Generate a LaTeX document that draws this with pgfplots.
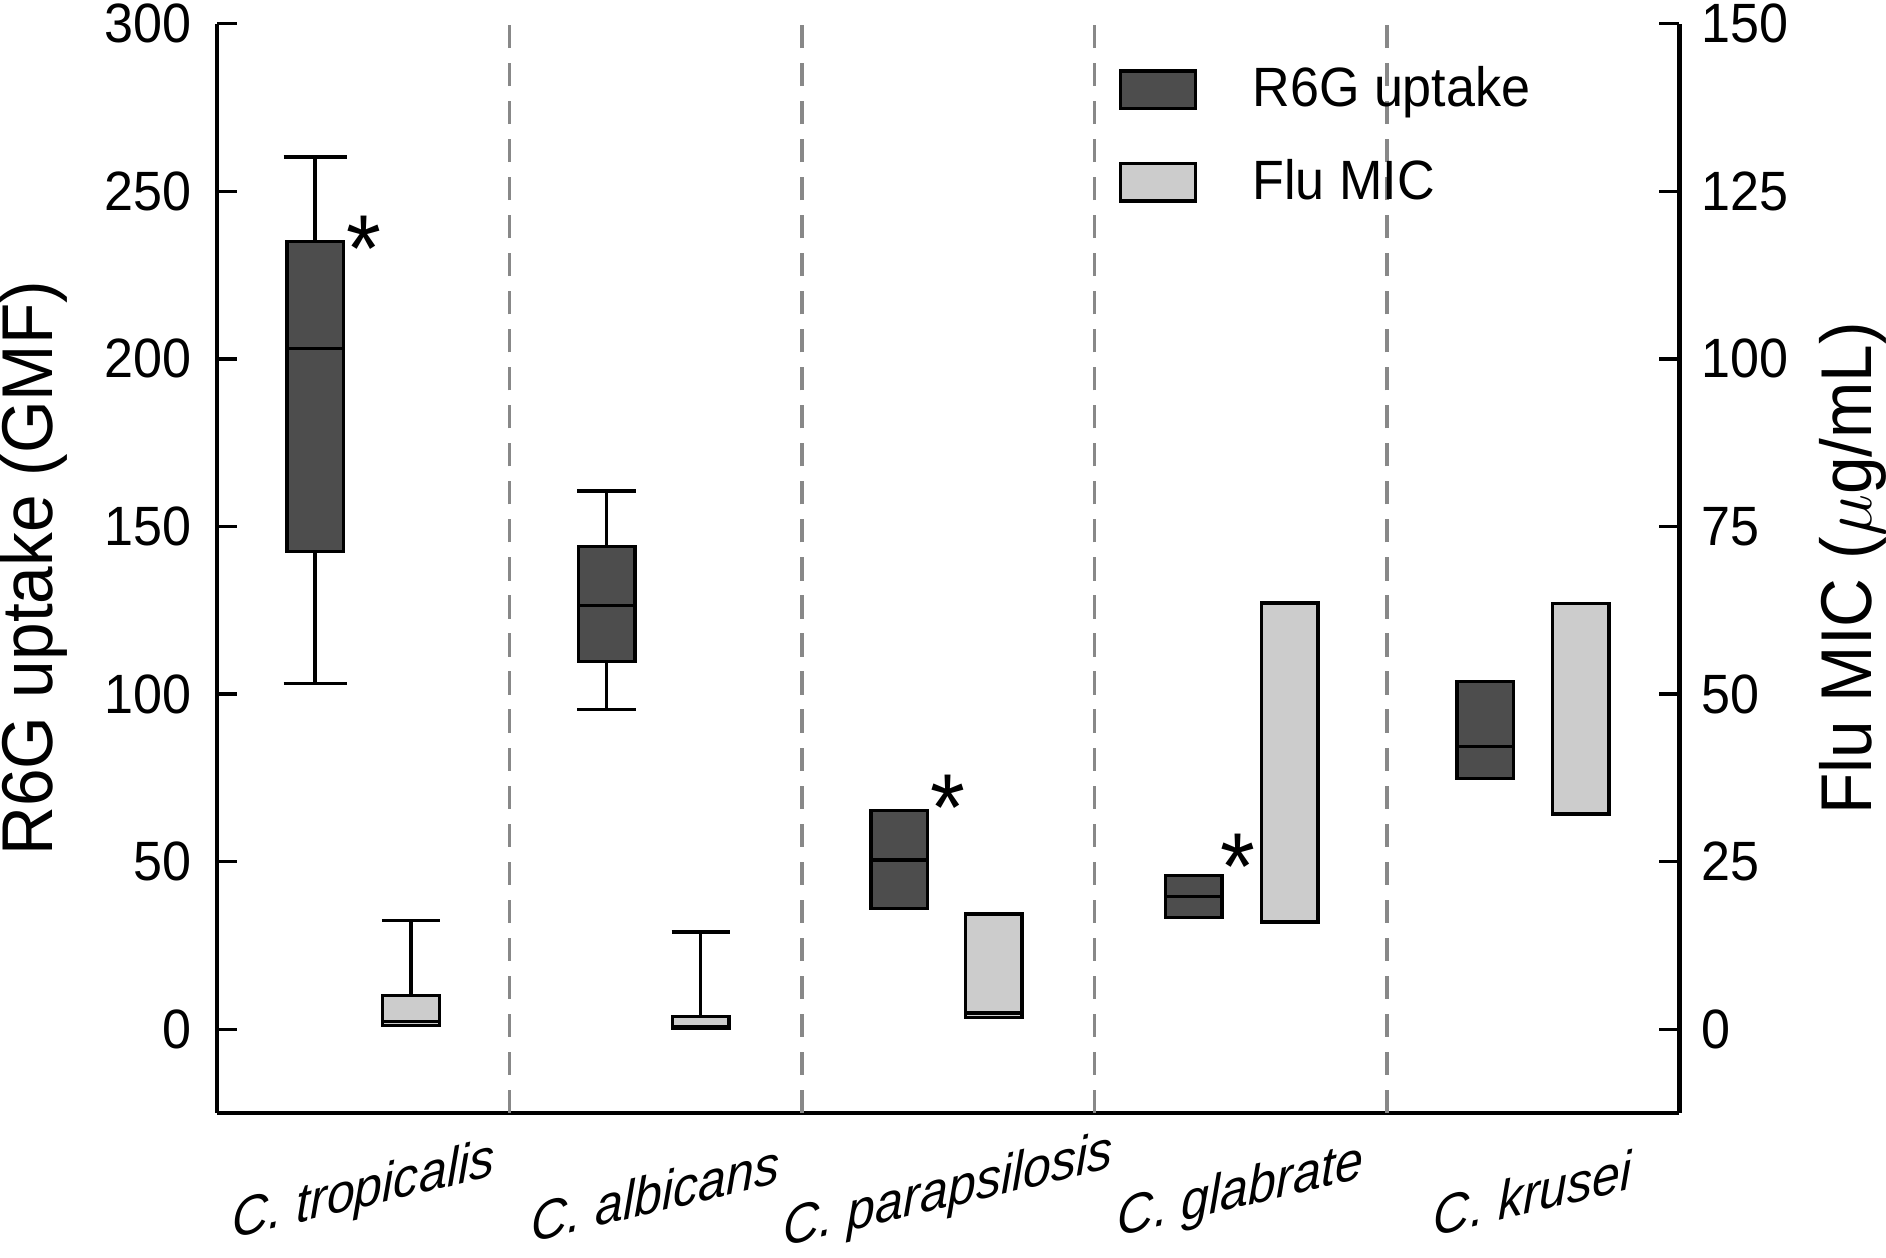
\documentclass[border=0pt]{standalone}
\usepackage{fontspec}
\setmainfont{Liberation Sans}[FakeStretch=0.94]
\newfontfamily\catfont{Liberation Sans}[FakeStretch=0.92]
\usepackage{pgfplots}
\pgfplotsset{compat=1.18}
\definecolor{darkbox}{HTML}{4D4D4D}
\definecolor{lightbox}{HTML}{CCCCCC}
\definecolor{sepgray}{HTML}{888888}

\begin{document}
\begin{tikzpicture}
\pgfplotsset{
  myaxis/.style={
    width=12.43cm, height=9.26cm, scale only axis,
    xmin=0, xmax=5,
    /pgf/number format/assume math mode=true,
    tick label style={font=\fontsize{13.4}{15}\selectfont, inner sep=1pt},
    axis line style={line width=1.1pt},
    major tick length=0.17cm,
    tick align=inside,
    tick style={line width=0.8pt, black},
    clip=false,
  },
  dbox/.style={draw=black, fill=darkbox, line width=0.8pt, solid},
  lbox/.style={draw=black, fill=lightbox, line width=0.8pt, solid},
  wl/.style={black, line width=0.8pt, solid},
  sep/.style={sepgray, line width=0.9pt, dash pattern=on 5.6pt off 3.6pt},
}
\begin{axis}[myaxis,
  axis x line*=bottom, axis y line*=left,
  ymin=-25, ymax=300, ytick={0,50,...,300},
  yticklabel style={xshift=-0.179cm},
  xtick={0.5,1.5,2.5,3.5,4.5},
  xticklabels={C. tropicalis, C. albicans, C. parapsilosis, C. glabrate, C. krusei},
  major x tick style={draw=none},
  xticklabel style={font=\catfont\itshape\fontsize{13.2}{15}\selectfont, yshift=-0.68cm, yslant=0.24, anchor=center, inner sep=0pt},
  ylabel={R6G uptake (GMF)},
  every axis y label/.style={at={(axis description cs:-0.1256,0.5)}, rotate=90, anchor=center, inner sep=0pt, font=\fontsize{17.4}{19}\selectfont},
]
% separators
\addplot[sep] coordinates {(1,-25) (1,300)};
\addplot[sep] coordinates {(2,-25) (2,300)};
\addplot[sep] coordinates {(3,-25) (3,300)};
\addplot[sep] coordinates {(4,-25) (4,300)};
% R6G uptake: C. tropicalis (whiskers 103.1-260.2, box 142.6-235.0, median 203.2)
\addplot[wl] coordinates {(0.335,103.1) (0.335,260.2)};
\addplot[wl] coordinates {(0.2275,260.2) (0.4425,260.2)};
\addplot[wl] coordinates {(0.2275,103.1) (0.4425,103.1)};
\addplot[dbox] coordinates {(0.2385,142.6) (0.4315,142.6) (0.4315,235.0) (0.2385,235.0)} -- cycle;
\addplot[wl] coordinates {(0.2385,203.2) (0.4315,203.2)};
% C. albicans (95.3, 109.7, 126.5, 144.0, 160.6)
\addplot[wl] coordinates {(1.332,95.3) (1.332,160.6)};
\addplot[wl] coordinates {(1.232,160.6) (1.432,160.6)};
\addplot[wl] coordinates {(1.232,95.3) (1.432,95.3)};
\addplot[dbox] coordinates {(1.2355,109.7) (1.4285,109.7) (1.4285,144.0) (1.2355,144.0)} -- cycle;
\addplot[wl] coordinates {(1.2355,126.5) (1.4285,126.5)};
% C. parapsilosis (36.0, 50.5, 65.3)
\addplot[dbox] coordinates {(2.2355,36.0) (2.4285,36.0) (2.4285,65.3) (2.2355,65.3)} -- cycle;
\addplot[wl] coordinates {(2.2305,50.5) (2.4285,50.5)};
% C. glabrate (33.3, 39.5, 45.8)
\addplot[dbox] coordinates {(3.2435,33.3) (3.4365,33.3) (3.4365,45.8) (3.2435,45.8)} -- cycle;
\addplot[wl] coordinates {(3.2435,39.5) (3.4365,39.5)};
% C. krusei (74.8, 84.4, 103.8)
\addplot[dbox] coordinates {(4.2405,74.8) (4.4335,74.8) (4.4335,103.8) (4.2405,103.8)} -- cycle;
\addplot[wl] coordinates {(4.2405,84.4) (4.4335,84.4)};
% asterisks
\node[anchor=base, font=\fontsize{23}{25}\selectfont, inner sep=0pt] at (axis cs:0.501,223) {*};
\node[anchor=base, font=\fontsize{23}{25}\selectfont, inner sep=0pt] at (axis cs:2.498,56.4) {*};
\node[anchor=base, font=\fontsize{23}{25}\selectfont, inner sep=0pt] at (axis cs:3.49,38.8) {*};
\end{axis}

\begin{axis}[myaxis,
  axis x line=none, axis y line*=right,
  ymin=-12.5, ymax=150, ytick={0,25,...,150},
  yticklabel style={xshift=0.149cm},
  ylabel={Flu MIC ($\mu$g/mL)},
  every axis y label/.style={at={(axis description cs:1.1185,0.5)}, rotate=90, anchor=center, inner sep=0pt, font=\fontsize{17.4}{19}\selectfont},
  legend style={draw=none, fill=none, at={(axis description cs:0.616,0.897)}, anchor=west,
    font=\fontsize{13.4}{15}\selectfont, row sep=0.25cm, inner sep=0pt,
    /tikz/every odd column/.append style={column sep=0.4cm}},
  legend image code/.code={\draw[#1, line width=0.8pt] (0cm,-0.16cm) rectangle (0.64cm,0.16cm);},
  legend cell align=left,
]
\addlegendimage{draw=black, fill=darkbox}
\addlegendentry{R6G uptake}
\addlegendimage{draw=black, fill=lightbox}
\addlegendentry{Flu MIC}
% Flu MIC: C. tropicalis (0.55, 1.1, 5.0, whisker 16.2)
\addplot[wl, forget plot] coordinates {(0.663,5.0) (0.663,16.2)};
\addplot[wl, forget plot] coordinates {(0.563,16.2) (0.763,16.2)};
\addplot[lbox, forget plot] coordinates {(0.5665,0.55) (0.7595,0.55) (0.7595,5.0) (0.5665,5.0)} -- cycle;
\addplot[wl, forget plot] coordinates {(0.5665,1.1) (0.7595,1.1)};
% C. albicans (0.1, 0.35, 1.9, whisker 14.5)
\addplot[wl, forget plot] coordinates {(1.654,1.9) (1.654,14.5)};
\addplot[wl, forget plot] coordinates {(1.554,14.5) (1.754,14.5)};
\addplot[lbox, forget plot] coordinates {(1.5575,0.1) (1.7505,0.1) (1.7505,1.9) (1.5575,1.9)} -- cycle;
\addplot[wl, forget plot] coordinates {(1.5575,0.35) (1.7505,0.35)};
% C. parapsilosis (1.75, 2.4, 17.2)
\addplot[lbox, forget plot] coordinates {(2.5595,1.75) (2.7525,1.75) (2.7525,17.2) (2.5595,17.2)} -- cycle;
\addplot[wl, forget plot] coordinates {(2.5595,2.4) (2.7525,2.4)};
% C. glabrate (16.0, 63.6)
\addplot[lbox, forget plot] coordinates {(3.5715,16.0) (3.7645,16.0) (3.7645,63.6) (3.5715,63.6)} -- cycle;
% C. krusei (32.1, 63.5)
\addplot[lbox, forget plot] coordinates {(4.5665,32.1) (4.7595,32.1) (4.7595,63.5) (4.5665,63.5)} -- cycle;
\end{axis}
\end{tikzpicture}
\end{document}
